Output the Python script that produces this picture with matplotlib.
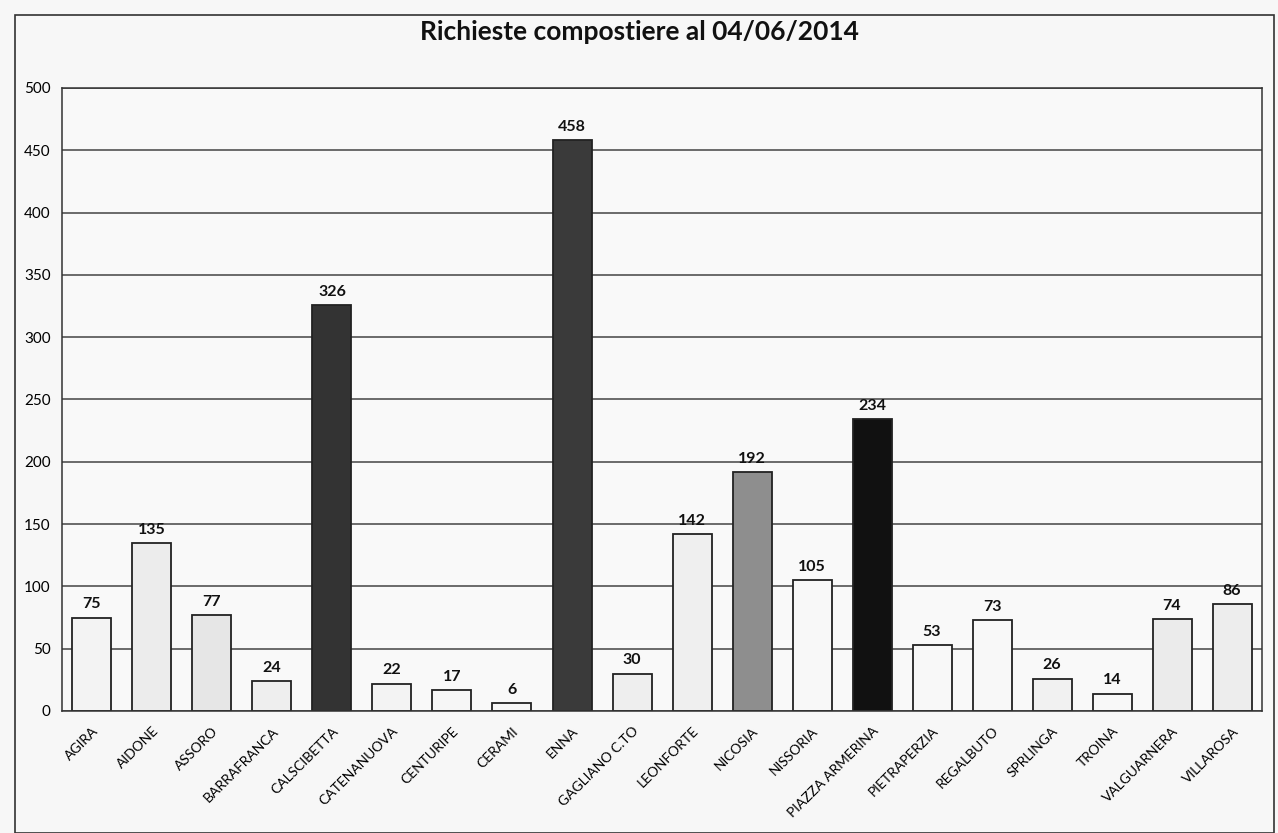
import numpy as np
import matplotlib.pyplot as plt
from matplotlib.patches import Rectangle

comuni = ['AGIRA', 'AIDONE', 'ASSORO', 'BARRAFRANCA', 'CALSCIBETTA', 'CATENANUOVA',
          'CENTURIPE', 'CERAMI', 'ENNA', 'GAGLIANO C.TO', 'LEONFORTE', 'NICOSIA',
          'NISSORIA', 'PIAZZA ARMERINA', 'PIETRAPERZIA', 'REGALBUTO', 'SPRLINGA',
          'TROINA', 'VALGUARNERA', 'VILLAROSA']
richieste = [75, 135, 77, 24, 326, 22, 17, 6, 458, 30, 142, 192, 105, 234, 53, 73, 26, 14, 74, 86]
colori = ['#f3f3f3', '#ececec', '#e6e6e6', '#eeeeee', '#333333', '#f3f3f3',
          '#f6f6f6', '#f6f6f6', '#3a3a3a', '#eeeeee', '#efefef', '#8e8e8e',
          '#f8f8f8', '#111111', '#f8f8f8', '#f8f8f8', '#f1f1f1', '#f8f8f8', '#ebebeb', '#ededed']

plt.rcParams['font.family'] = ['Lato', 'DejaVu Sans']

fig = plt.figure(figsize=(12.78, 8.33), dpi=100, facecolor='#f7f7f7')
ax = fig.add_axes([0.0485, 0.1465, 0.939, 0.7479])
ax.set_facecolor('#f9f9f9')

x = np.arange(len(comuni))
ax.set_axisbelow(True)
ax.grid(axis='y', color='#444444', linewidth=1.1)
bars = ax.bar(x, richieste, width=0.65, color=colori, edgecolor='#222222', linewidth=1.3)
for xi, v in zip(x, richieste):
    ax.text(xi, v + 5, str(v), ha='center', va='bottom', fontsize=11.5, fontweight='bold', color='#111111')

ax.set_xlim(-0.5, len(comuni) - 0.5)
ax.set_ylim(0, 500)
ax.set_yticks(range(0, 501, 50))
ax.tick_params(axis='y', length=0, labelsize=11, pad=8)
ax.tick_params(axis='x', length=0, labelsize=10, pad=10)
ax.set_xticks(x)
ax.set_xticklabels(comuni, rotation=45, ha='right', rotation_mode='anchor')
for s in ax.spines.values():
    s.set_color('#333333')
    s.set_linewidth(1.1)

fig.text(0.5, 0.962, 'Richieste compostiere al 04/06/2014', ha='center', va='center',
         fontsize=19, fontweight='bold', color='#111111')
fig.patches.append(Rectangle((0.012, 0.0), 0.985, 0.982, transform=fig.transFigure,
                             fill=False, edgecolor='#333333', linewidth=1.2))

fig.savefig('out.png', dpi=100, facecolor=fig.get_facecolor())
